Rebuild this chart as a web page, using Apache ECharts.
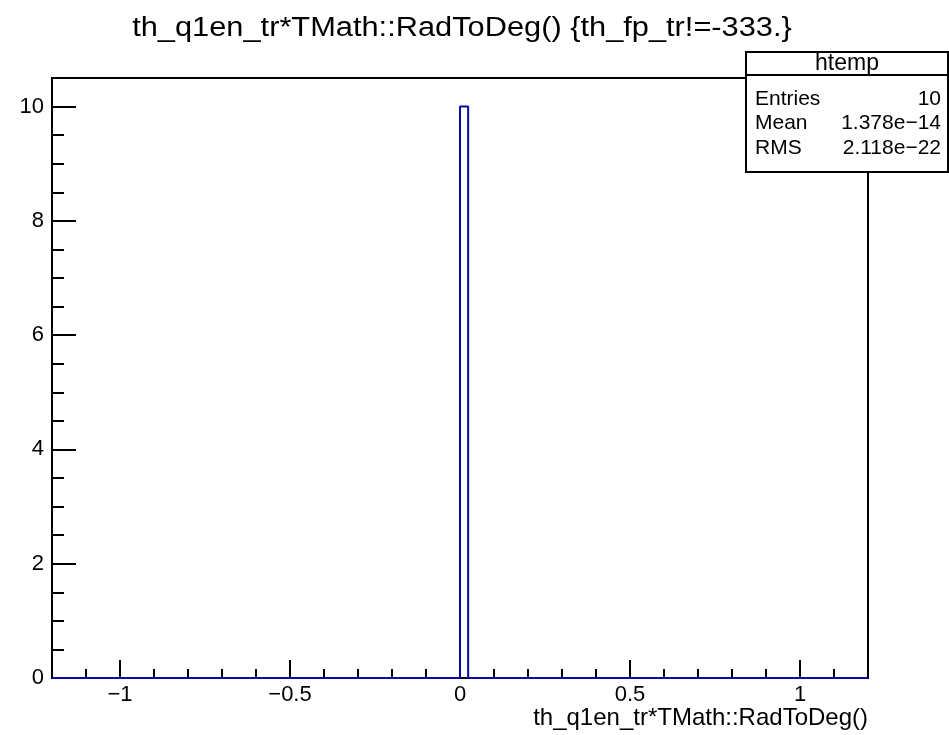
<!DOCTYPE html>
<html>
<head>
<meta charset="utf-8">
<script src="https://cdn.jsdelivr.net/npm/echarts@6/dist/echarts.min.js"></script>
<style>
  html, body { margin: 0; padding: 0; background: #fff; }
  #chart { width: 949px; height: 735px; }
</style>
</head>
<body>
<div id="chart"></div>
<script>
// histogram outline: bin edges (empty regions merged) and counts
const binEdges = [-1.2, 0, 0.024, 1.2];
const binCounts = [0, 10, 0];

// x axis ticks
const xMajorTicks = [-1, -0.5, 0, 0.5, 1];
const xMinorTicks = [-1.1, -0.9, -0.8, -0.7, -0.6, -0.4, -0.3, -0.2, -0.1,
                     0.1, 0.2, 0.3, 0.4, 0.6, 0.7, 0.8, 0.9, 1.1];

// stats box
const statsName = 'htemp';
const statsLabels = ['Entries', 'Mean', 'RMS'];
const statsValues = ['10', '1.378e\u221214', '2.118e\u221222'];

const titleText = 'th_q1en_tr*TMath::RadToDeg() {th_fp_tr!=-333.}';
const xTitle = 'th_q1en_tr*TMath::RadToDeg()';

const FONT = '"Liberation Sans", Arial, sans-serif';

// step points: each bin's left edge at its count, closing at the last edge
const stepData = [];
for (let i = 0; i < binCounts.length; i++) {
  stepData.push([binEdges[i], binCounts[i]]);
}
stepData.push([binEdges[binEdges.length - 1], 0]);

const minus = v => String(v).replace('-', '\u2212');

const chart = echarts.init(document.getElementById('chart'));

const graphics = [];
// title
graphics.push({
  type: 'text', z: 101, x: 462, y: 29, scaleX: 1.14,
  style: { text: titleText, font: '27px ' + FONT, fill: '#000', align: 'center', verticalAlign: 'middle' }
});
// x axis title
graphics.push({
  type: 'text', z: 101, x: 868, y: 718,
  style: { text: xTitle, font: '24px ' + FONT, fill: '#000', align: 'right', verticalAlign: 'middle' }
});
// stats box
const bx = 746, by = 52, bw = 202, bh = 120;
graphics.push({
  type: 'rect', z: 100,
  shape: { x: bx, y: by, width: bw, height: bh },
  style: { fill: '#fff', stroke: '#000', lineWidth: 2 }
});
graphics.push({
  type: 'line', z: 101,
  shape: { x1: bx, y1: by + 23, x2: bx + bw, y2: by + 23 },
  style: { stroke: '#000', lineWidth: 2 }
});
graphics.push({
  type: 'text', z: 101, x: bx + bw / 2, y: by + 12,
  style: { text: statsName, font: '23px ' + FONT, fill: '#000', align: 'center', verticalAlign: 'middle' }
});
statsLabels.forEach((lab, i) => {
  const yy = by + 47 + i * 24.5;
  graphics.push({
    type: 'text', z: 101, x: bx + 9, y: yy,
    style: { text: lab, font: '21px ' + FONT, fill: '#000', align: 'left', verticalAlign: 'middle' }
  });
  graphics.push({
    type: 'text', z: 101, x: bx + bw - 7, y: yy,
    style: { text: statsValues[i], font: '21px ' + FONT, fill: '#000', align: 'right', verticalAlign: 'middle' }
  });
});

chart.setOption({
  animation: false,
  backgroundColor: '#fff',
  grid: {
    left: 52, right: 81, top: 78, bottom: 57,
    containLabel: false, outerBoundsMode: 'none',
    show: true, borderColor: '#000', borderWidth: 2, backgroundColor: 'transparent'
  },
  xAxis: [{
    type: 'value',
    min: -1.2, max: 1.2,
    axisLine: { show: true, onZero: false, lineStyle: { color: '#000', width: 2 } },
    axisTick: { show: true, inside: true, length: 18, customValues: xMajorTicks, lineStyle: { color: '#000', width: 2 } },
    splitLine: { show: false },
    axisLabel: {
      fontFamily: FONT, fontSize: 22, color: '#000', margin: 6,
      customValues: xMajorTicks,
      formatter: v => minus(v)
    }
  }, {
    type: 'value',
    min: -1.2, max: 1.2,
    position: 'bottom',
    axisLine: { show: false, onZero: false },
    axisTick: { show: true, inside: true, length: 9, customValues: xMinorTicks, lineStyle: { color: '#000', width: 2 } },
    axisLabel: { show: false },
    splitLine: { show: false }
  }],
  yAxis: {
    type: 'value',
    min: 0, max: 10.5, interval: 2,
    axisLine: { show: true, onZero: false, lineStyle: { color: '#000', width: 2 } },
    axisTick: { show: true, inside: true, length: 24, lineStyle: { color: '#000', width: 2 } },
    minorTick: { show: true, splitNumber: 4, length: 12, lineStyle: { color: '#000', width: 2 } },
    splitLine: { show: false },
    axisLabel: {
      fontFamily: FONT, fontSize: 22, color: '#000', margin: 8,
      showMaxLabel: false,
      formatter: v => minus(v)
    }
  },
  series: [{
    type: 'line',
    step: 'end',
    data: stepData,
    symbol: 'none',
    lineStyle: { color: '#0a0aa0', width: 2 },
    z: 3
  }],
  graphic: graphics
});
</script>
</body>
</html>
